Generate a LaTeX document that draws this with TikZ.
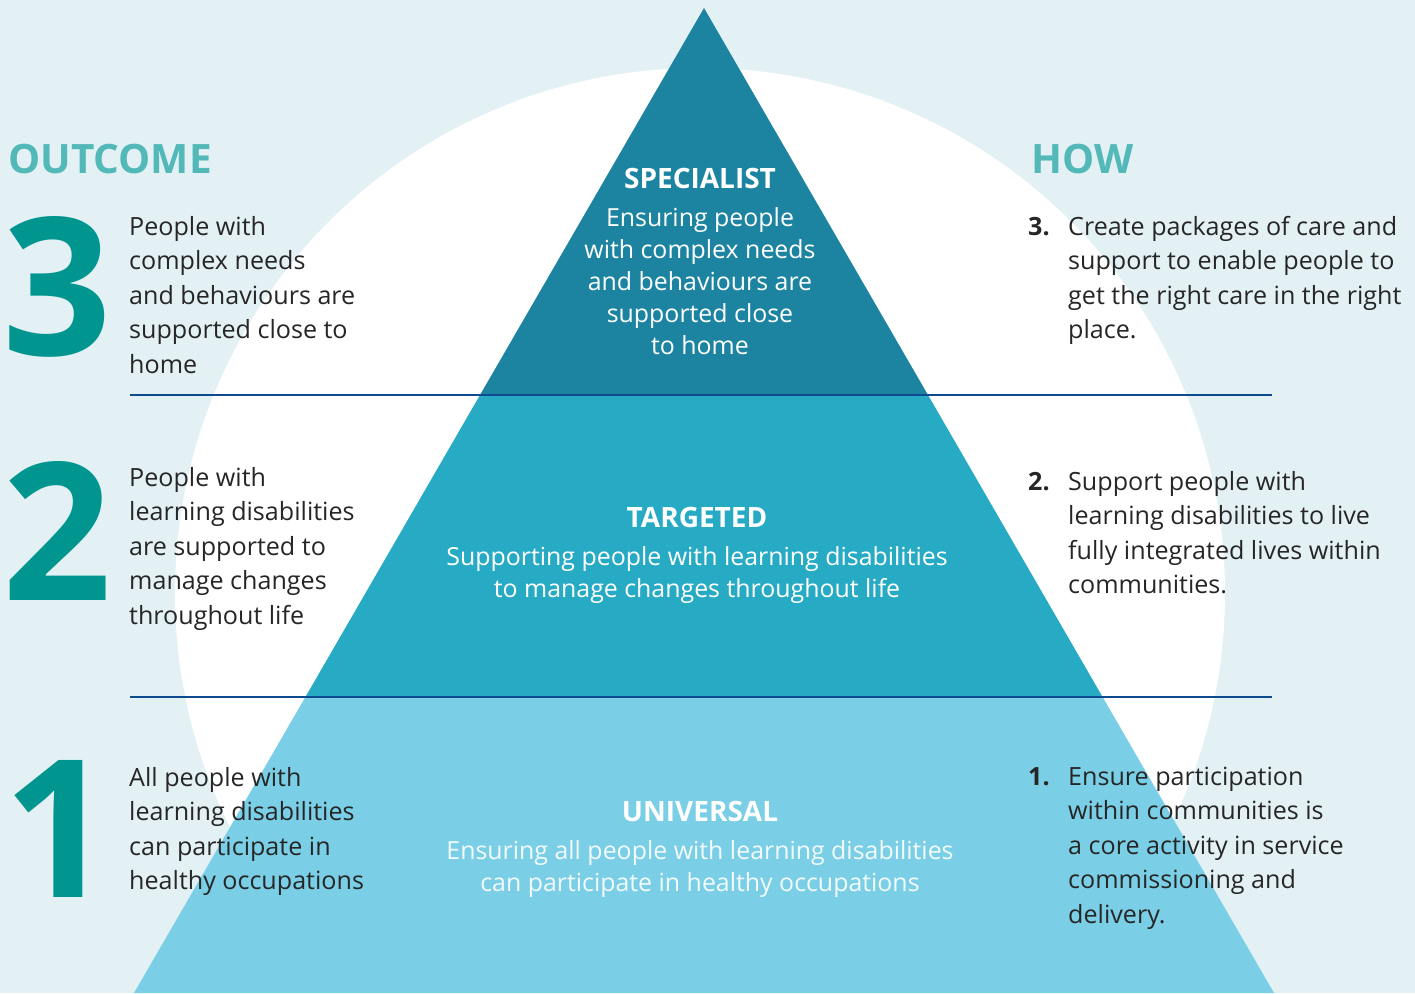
\documentclass[tikz,border=0pt]{standalone}
\usepackage{fontspec}
\setmainfont{Open Sans}
\definecolor{bg}{HTML}{E3F1F5}
\definecolor{tierA}{HTML}{1C84A1}
\definecolor{tierB}{HTML}{27ABC5}
\definecolor{tierC}{HTML}{7ACFE6}
\definecolor{digit}{HTML}{00958F}
\definecolor{head}{HTML}{52B8B8}
\definecolor{rule}{HTML}{0D4A8E}
\definecolor{ink}{HTML}{262626}
\newcommand\bodyfnt{\fontsize{25.1}{34.5}\selectfont}
\newcommand\pyrfnt{\fontsize{24.9}{32}\selectfont}
\tikzset{
  body/.style={anchor=north west, inner sep=0pt, align=left, text=ink, font=\bodyfnt},
  num/.style={anchor=base west, inner sep=0pt, text=ink, font=\bodyfnt\bfseries},
  bigdigit/.style={anchor=base west, inner sep=0pt, text=digit, font=\fontsize{192}{192}\selectfont\bfseries},
  heading/.style={anchor=base west, inner sep=0pt, text=head, font=\fontsize{40.5}{40.5}\selectfont\bfseries},
  tiertitle/.style={anchor=base, inner sep=0pt, text=white, font=\fontsize{28}{28}\selectfont\bfseries},
  tierbody/.style={anchor=north, inner sep=0pt, align=center, text=white, font=\pyrfnt},
  sep/.style={draw=rule, line width=2pt}
}
\begin{document}
\begin{tikzpicture}[x=1pt,y=-1pt]
\useasboundingbox (0,0) rectangle (1415,993);
\begin{scope}
\clip (0,0) rectangle (1415,993);
\fill[bg] (0,0) rectangle (1415,993);
\fill[white] (700,593) circle[radius=525];
% pyramid tiers
\coordinate (apex) at (704,8);
\coordinate (l1) at (480,395);
\coordinate (r1) at (928,395);
\coordinate (l2) at (305.4,697);
\coordinate (r2) at (1102.6,697);
\coordinate (l3) at (134,993);
\coordinate (r3) at (1274,993);
\fill[tierA] (apex) -- (r1) -- (l1) -- cycle;
\fill[tierB] (l1) -- (r1) -- (r2) -- (l2) -- cycle;
\fill[tierC] (l2) -- (r2) -- (r3) -- (l3) -- cycle;
\end{scope}
% separator lines
\coordinate (s1a) at (130,395);
\coordinate (s1b) at (1272,395);
\coordinate (s2a) at (130,697);
\coordinate (s2b) at (1272,697);
\draw[sep] (s1a) -- (s1b);
\draw[sep] (s2a) -- (s2b);
% headings
\node[heading] (outcome) at (8,173) {OUTCOME};
\node[heading] (how) at (1031,173) {HOW};
% big digits
\node[bigdigit] (d3) at (2,355) {3};
\node[bigdigit] (d2) at (2,600) {2};
\node[bigdigit] (d1) at (3,897) {1};
% left texts
\node[body] (o3) at (129,235-24.15) {\strut People with\\complex needs\\and behaviours are\\supported close to\\home};
\node[body] (o2) at (129,486-24.15) {\strut People with\\learning disabilities\\are supported to\\manage changes\\throughout life};
\node[body] (o1) at (129,786-24.15) {\strut All people with\\learning disabilities\\can participate in\\healthy occupations};
% right texts
\node[num] (n3) at (1028,235) {3.};
\node[body] (h3) at (1068,235-24.15) {\strut Create packages of care and\\support to enable people to\\get the right care in the right\\place.};
\node[num] (n2) at (1028,490) {2.};
\node[body] (h2) at (1068,490-24.15) {\strut Support people with\\learning disabilities to live\\fully integrated lives within\\communities.};
\node[num] (n1) at (1028,785) {1.};
\node[body] (h1) at (1068,785-24.15) {\strut Ensure participation\\within communities is\\a core activity in service\\commissioning and\\delivery.};
% pyramid texts
\node[tiertitle] (tA) at (700,188) {SPECIALIST};
\node[tierbody] (bA) at (700,226-22.4) {\strut Ensuring people\\with complex needs\\and behaviours are\\supported close\\to home};
\node[tiertitle] (tB) at (697,527) {TARGETED};
\node[tierbody] (bB) at (697,565-22.4) {\strut Supporting people with learning disabilities\\to manage changes throughout life};
\node[tiertitle] (tC) at (700,821) {UNIVERSAL};
\node[tierbody, text=white!90!tierC] (bC) at (700,859-22.4) {\strut Ensuring all people with learning disabilities\\can participate in healthy occupations};
\end{tikzpicture}
\end{document}
